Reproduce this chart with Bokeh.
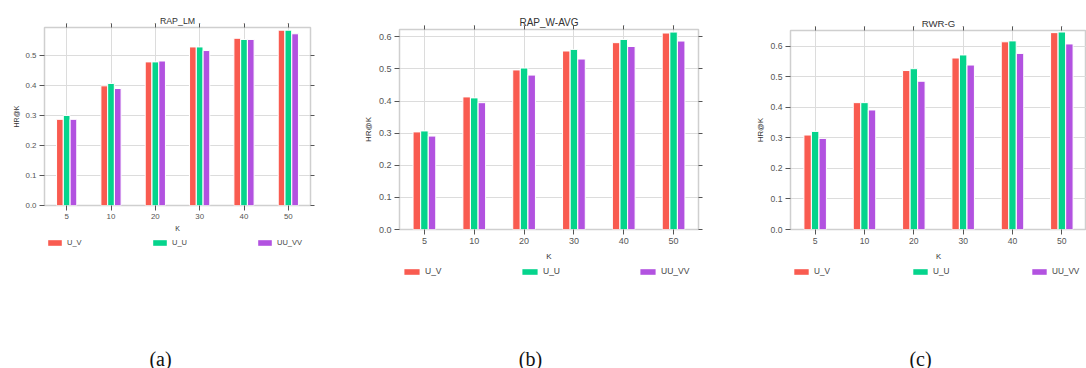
from bokeh.plotting import figure
from bokeh.models import (FactorRange, Range1d, LinearAxis, CategoricalAxis, FixedTicker,
                          NumeralTickFormatter, CustomJSTickFormatter, Legend, LegendItem,
                          ColumnDataSource, Title, Label)
from bokeh.transform import dodge
from bokeh.layouts import row, column
from bokeh.embed import file_html
from bokeh.resources import INLINE

K = ["5", "10", "20", "30", "40", "50"]
series_names = ["U_V", "U_U", "UU_VV"]
colors = ["#F95B50", "#05D48C", "#B252E0"]

titles = ["RAP_LM", "RAP_W-AVG", "RWR-G"]
captions = ["(a)", "(b)", "(c)"]

rap_lm_uv = [0.288, 0.400, 0.480, 0.530, 0.559, 0.586]
rap_lm_uu = [0.301, 0.408, 0.480, 0.530, 0.555, 0.586]
rap_lm_uuvv = [0.288, 0.391, 0.483, 0.518, 0.555, 0.574]

rap_wavg_uv = [0.304, 0.413, 0.497, 0.556, 0.582, 0.612]
rap_wavg_uu = [0.307, 0.410, 0.503, 0.561, 0.592, 0.615]
rap_wavg_uuvv = [0.291, 0.395, 0.481, 0.531, 0.570, 0.587]

rwr_g_uv = [0.309, 0.415, 0.520, 0.561, 0.614, 0.644]
rwr_g_uu = [0.321, 0.415, 0.526, 0.571, 0.617, 0.646]
rwr_g_uuvv = [0.298, 0.391, 0.485, 0.538, 0.576, 0.607]

y_ticks_a = [0.0, 0.1, 0.2, 0.3, 0.4, 0.5]
y_ticks_bc = [0.0, 0.1, 0.2, 0.3, 0.4, 0.5, 0.6]

FONT = "Liberation Sans"
GRID = "#dcdcdc"
FRAME = "#cfcfcf"
TICK = "#555555"


def panel(title, caption, vals, yend, yticks, x0, width, h_main, bl, br, bt, bb, s,
          right_axis, lab_std, ax_std, title_std, leg_xs, leg_y, cap_x, cap_y):
    p = figure(x_range=FactorRange(*K), y_range=Range1d(0, yend),
               width=width, height=h_main, min_border_left=bl, min_border_right=br,
               min_border_top=bt, min_border_bottom=bb, output_backend="svg",
               toolbar_location=None, background_fill_color="white",
               border_fill_color="white")
    p.title = Title(text=title, align="center", text_font=FONT,
                    text_font_size=f"{10*s:.1f}px", text_font_style="normal",
                    text_color="#333333", offset=0, standoff=title_std)
    src = ColumnDataSource(dict(K=K, a=vals[0], b=vals[1], c=vals[2]))
    offs = [-0.153, 0.0, 0.153]
    for col, off, c in zip(["a", "b", "c"], offs, colors):
        p.vbar(x=dodge("K", off, range=p.x_range), top=col, width=0.15, source=src,
               fill_color=c, line_color="white", line_width=1)

    for ax in [p.xaxis[0], p.yaxis[0]]:
        ax.axis_line_color = None
        ax.major_tick_line_color = TICK
        ax.major_tick_in = 0
        ax.major_tick_out = 5
        ax.minor_tick_line_color = None
        ax.major_label_text_font = FONT
        ax.major_label_text_font_size = f"{9*s:.1f}px"
        ax.major_label_text_color = "#555555"
        ax.axis_label_text_font = FONT
        ax.axis_label_text_font_size = f"{8*s:.1f}px"
        ax.axis_label_text_font_style = "normal"
        ax.axis_label_text_color = "#333333"
        ax.major_label_standoff = lab_std
        ax.axis_label_standoff = ax_std
    p.yaxis.major_label_standoff = 3
    p.yaxis.axis_label_standoff = 3
    p.xaxis.axis_label = "K"
    p.yaxis.axis_label = "HR@K"
    p.yaxis.ticker = FixedTicker(ticks=yticks)
    p.yaxis.formatter = NumeralTickFormatter(format="0.0")

    top = CategoricalAxis(major_label_overrides={k: "" for k in K})
    top.axis_line_color = None
    top.major_tick_line_color = TICK
    top.major_tick_in = 0
    top.major_tick_out = 4
    top.major_label_standoff = 0
    top.major_label_text_font_size = "1px"
    p.add_layout(top, "above")

    if right_axis:
        ra = LinearAxis(ticker=FixedTicker(ticks=yticks),
                        formatter=CustomJSTickFormatter(code="return ''"))
        ra.axis_line_color = None
        ra.major_tick_line_color = TICK
        ra.major_tick_in = 0
        ra.major_tick_out = 4
        ra.minor_tick_line_color = None
        ra.major_label_standoff = 0
        ra.major_label_text_font_size = "1px"
        p.add_layout(ra, "right")

    p.xgrid.grid_line_color = GRID
    p.ygrid.grid_line_color = GRID
    p.ygrid.ticker = FixedTicker(ticks=yticks)
    p.outline_line_color = FRAME
    p.outline_line_width = 1.5

    # legend + caption strip; its frame lines up with the chart frame above
    h_cap = 368 - h_main
    fl = x0 + bl
    fr = x0 + width - br
    q = figure(width=width, height=h_cap, x_range=Range1d(fl, fr), y_range=Range1d(0, h_cap),
               min_border_left=bl, min_border_right=br, min_border_top=0, min_border_bottom=0,
               x_axis_type=None, y_axis_type=None, output_backend="svg",
               toolbar_location=None, background_fill_color="white", border_fill_color="white")
    q.grid.visible = False
    q.outline_line_color = None
    qsrc = ColumnDataSource(dict(i=list(range(len(K))), a=vals[0], b=vals[1], c=vals[2]))
    for name, col, c, lx in zip(series_names, ["a", "b", "c"], colors, leg_xs):
        r = q.vbar(x="i", top=col, width=0.15, source=qsrc, fill_color=c,
                   line_color=None, visible=False)
        lg = Legend(items=[LegendItem(label=name, renderers=[r])], location=(lx, leg_y),
                    padding=0, margin=0, border_line_color=None, background_fill_alpha=0,
                    inactive_fill_alpha=0,
                    glyph_width=int(round(19*s)), glyph_height=7, label_height=7,
                    label_standoff=int(round(4*s)), label_text_font=FONT,
                    label_text_font_size=f"{8.5*s:.1f}px", label_text_color="#444444")
        q.add_layout(lg, "center")
    q.add_layout(Label(x=cap_x, y=cap_y, text=caption, text_font="Liberation Serif",
                       text_font_size="20px", text_align="center", text_baseline="middle",
                       text_color="#111111"))
    return column(p, q, spacing=0)


pa = panel(titles[0], captions[0], [rap_lm_uv, rap_lm_uu, rap_lm_uuvv], 0.595, y_ticks_a,
           0, 350, 235, 44, 40, 27, 30, 0.88, True, 3, 3, -12, [2, 107, 212], 121, 160, 10)
pb = panel(titles[1], captions[1], [rap_wavg_uv, rap_wavg_uu, rap_wavg_uuvv], 0.623, y_ticks_bc,
           350, 390, 265, 49, 42, 29, 36, 1.0, True, 3, 5, -12, [3, 121, 239], 92, 530, 10)
pc = panel(titles[2], captions[2], [rwr_g_uv, rwr_g_uu, rwr_g_uuvv], 0.651, y_ticks_bc,
           740, 346, 265, 50, 0, 30, 36, 0.96, False, 3, 5, -12, [2, 121, 240], 92, 920, 10)

layout = row(pa, pb, pc, spacing=0)
open("out.html", "w").write(file_html(layout, INLINE))
